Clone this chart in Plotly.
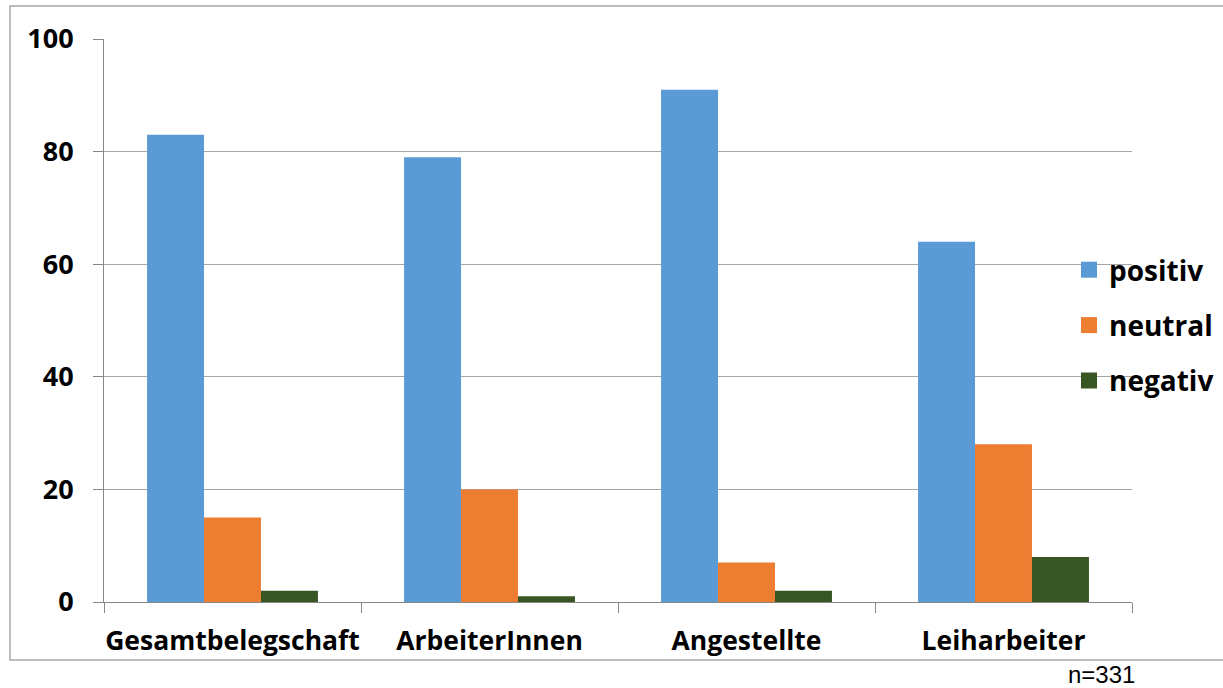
import plotly.graph_objects as go

categories = ["Gesamtbelegschaft", "ArbeiterInnen", "Angestellte", "Leiharbeiter"]
positiv = [83, 79, 91, 64]
neutral = [15, 20, 7, 28]
negativ = [2, 1, 2, 8]
y_ticks = [0, 20, 40, 60, 80, 100]
series = [("positiv", positiv, "#5B9BD5"),
          ("neutral", neutral, "#ED7D31"),
          ("negativ", negativ, "#375623")]

W, H = 1223, 688
L, R, T, B = 104, 1132, 39, 602
pw, ph = R - L, B - T

fig = go.Figure()
for name, vals, col in series:
    fig.add_trace(go.Bar(x=categories, y=vals, name=name, marker_color=col,
                         marker_line_width=0, showlegend=False))
# legend entries with larger square swatches
for name, vals, col in series:
    fig.add_trace(go.Scatter(x=[categories[0]], y=[None], mode="markers", name=name,
                             marker=dict(symbol="square", size=16, color=col),
                             legendgroup=name, hoverinfo="skip"))

font_b = "'Open Sans', Lato, sans-serif"
fig.update_layout(
    width=W, height=H,
    margin=dict(l=L, r=W - R, t=T, b=H - B, pad=0, autoexpand=False),
    paper_bgcolor="white", plot_bgcolor="white",
    barmode="group", bargap=0.335, bargroupgap=0,
    showlegend=True,
    legend=dict(x=(1069 - L) / pw, y=(B - 245) / ph, xanchor="left", yanchor="top",
                font=dict(family=font_b, size=28, color="black", weight="bold"),
                tracegroupgap=16, bgcolor="rgba(0,0,0,0)", itemsizing="trace"),
    xaxis=dict(showline=True, linecolor="#868686", linewidth=1,
               ticks="outside", ticklen=10, tickcolor="#868686", tickson="boundaries",
               tickfont=dict(family=font_b, size=26.5, color="black", weight="bold"),
               ticklabelstandoff=15, tickangle=0, automargin=False,
               showgrid=False, zeroline=False),
    yaxis=dict(range=[0, 100], tickvals=y_ticks, showline=True, linecolor="#868686",
               linewidth=1, ticks="outside", ticklen=10, tickcolor="#868686",
               showgrid=True, gridcolor="#A6A6A6", gridwidth=1, zeroline=False,
               tickfont=dict(family=font_b, size=27, color="black", weight="bold"),
               ticklabelstandoff=14, automargin=False),
    shapes=[dict(type="rect", xref="paper", yref="paper",
                 x0=(10 - L) / pw, x1=(1240 - L) / pw,
                 y0=(B - 660) / ph, y1=(B - 6) / ph,
                 line=dict(color="#A6A6A6", width=1.5), layer="below")],
    annotations=[dict(text="n=331", xref="paper", yref="paper",
                      x=(1137 - L) / pw, y=(B - 674) / ph, xanchor="right", yanchor="middle",
                      showarrow=False,
                      font=dict(family="Liberation Sans, Arial, sans-serif", size=24, color="black"))],
)
fig.write_html("out.html", config={"displayModeBar": False},
               post_script="document.body.style.margin='0';document.body.style.overflow='hidden';")
